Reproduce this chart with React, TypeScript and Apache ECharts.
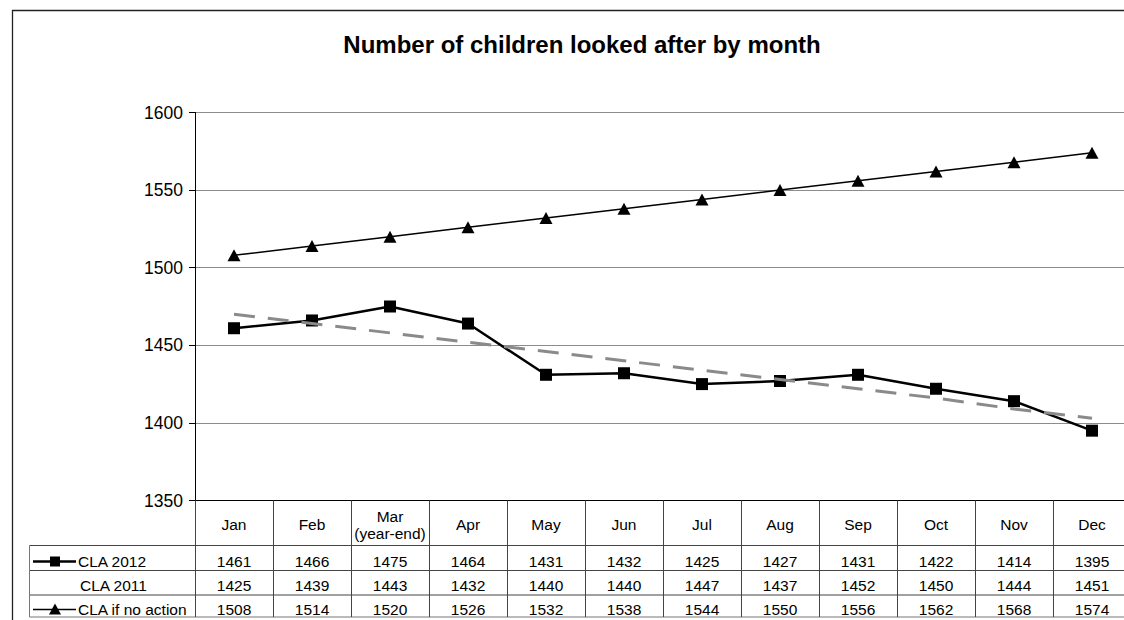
import React, { useEffect, useRef } from 'react';
import * as echarts from 'echarts';

const months = ['Jan', 'Feb', 'Mar\n(year-end)', 'Apr', 'May', 'Jun', 'Jul', 'Aug', 'Sep', 'Oct', 'Nov', 'Dec'];
const cla2012 = [1461, 1466, 1475, 1464, 1431, 1432, 1425, 1427, 1431, 1422, 1414, 1395];
const cla2011 = [1425, 1439, 1443, 1432, 1440, 1440, 1447, 1437, 1452, 1450, 1444, 1451];
const claNoAction = [1508, 1514, 1520, 1526, 1532, 1538, 1544, 1550, 1556, 1562, 1568, 1574];
const cla2012Trend = [1470, 1464, 1458, 1452, 1446, 1440, 1434, 1428, 1422, 1416, 1409, 1403];
const rowLabels = ['CLA 2012', 'CLA 2011', 'CLA if no action'];
const yMin = 1350;
const yMax = 1600;
const yStep = 50;
const titleText = 'Number of children looked after by month';

const FONT = "'Liberation Sans', Arial, sans-serif";
const GRID_LEFT = 195;
const GRID_TOP = 112.5;
const GRID_W = 936;
const GRID_H = 388;
const AXIS_Y = GRID_TOP + GRID_H;
const ROW_LINES = [545.5, 570.5, 595, 617];
const TABLE_LEFT = 29.5;
const TABLE_RIGHT = GRID_LEFT + GRID_W;
const ROW_MARGINS = [61, 85, 109];
const TABLE_FS = 15.5;

function tableAxis(data: (number | string)[], margin: number) {
  return {
    type: 'category',
    gridIndex: 0,
    position: 'bottom',
    offset: 0,
    data: data.map(String),
    axisLine: { show: false },
    axisTick: { show: false },
    splitLine: { show: false },
    axisLabel: {
      interval: 0,
      margin,
      verticalAlign: 'middle',
      fontSize: TABLE_FS,
      color: '#000',
      fontFamily: FONT,
    },
  };
}

export default function App() {
  const ref = useRef<HTMLDivElement>(null);

  useEffect(() => {
    if (!ref.current) return;
    const chart = echarts.init(ref.current, null, { renderer: 'svg' });

    const rowYs = ROW_MARGINS.map((m) => AXIS_Y + m);
    const graphics: any[] = [
      {
        type: 'rect',
        shape: { x: 12.5, y: 10.5, width: 1300, height: 800 },
        style: { fill: 'none', stroke: '#222', lineWidth: 1.3 },
        silent: true,
      },
      ...ROW_LINES.map((y, i) => ({
        type: 'line',
        shape: { x1: TABLE_LEFT, y1: y, x2: TABLE_RIGHT, y2: y },
        style: { stroke: i === ROW_LINES.length - 1 ? '#777' : '#444', lineWidth: 1 },
        silent: true,
      })),
      {
        type: 'line',
        shape: { x1: TABLE_LEFT, y1: ROW_LINES[0], x2: TABLE_LEFT, y2: ROW_LINES[3] },
        style: { stroke: '#777', lineWidth: 1 },
        silent: true,
      },
      ...rowLabels.map((t, i) => ({
        type: 'text',
        x: i === 1 ? 80 : 78,
        y: rowYs[i],
        style: { text: t, fontSize: TABLE_FS, fontFamily: FONT, fill: '#000', verticalAlign: 'middle', align: 'left' },
        silent: true,
      })),
      // legend key: CLA 2012
      {
        type: 'line',
        shape: { x1: 33, y1: rowYs[0], x2: 76, y2: rowYs[0] },
        style: { stroke: '#000', lineWidth: 2.5 },
        silent: true,
      },
      {
        type: 'rect',
        shape: { x: 50, y: rowYs[0] - 5, width: 10, height: 10 },
        style: { fill: '#000' },
        silent: true,
      },
      // legend key: CLA if no action
      {
        type: 'line',
        shape: { x1: 33, y1: rowYs[2], x2: 76, y2: rowYs[2] },
        style: { stroke: '#000', lineWidth: 1.5 },
        silent: true,
      },
      {
        type: 'polygon',
        shape: { points: [[49, rowYs[2] + 5], [61, rowYs[2] + 5], [55, rowYs[2] - 6]] },
        style: { fill: '#000' },
        silent: true,
      },
    ];

    const option: any = {
      animation: false,
      backgroundColor: '#fff',
      title: {
        text: titleText,
        left: 582,
        top: 32,
        padding: 0,
        textAlign: 'center',
        textStyle: { fontSize: 24, fontWeight: 'bold', fontFamily: FONT, color: '#000' },
      },
      grid: {
        left: GRID_LEFT,
        top: GRID_TOP,
        width: GRID_W,
        height: GRID_H,
        containLabel: false,
        outerBoundsMode: 'none',
      },
      xAxis: [
        {
          type: 'category',
          gridIndex: 0,
          position: 'bottom',
          data: months,
          boundaryGap: true,
          axisLine: { show: true, onZero: false, lineStyle: { color: '#000', width: 1 } },
          axisTick: { show: true, interval: 0, length: ROW_LINES[3] - AXIS_Y, lineStyle: { color: '#444', width: 1 } },
          splitLine: { show: false },
          axisLabel: {
            interval: 0,
            margin: 24,
            verticalAlign: 'middle',
            lineHeight: 17,
            fontSize: TABLE_FS,
            color: '#000',
            fontFamily: FONT,
          },
        },
        tableAxis(cla2012, ROW_MARGINS[0]),
        tableAxis(cla2011, ROW_MARGINS[1]),
        tableAxis(claNoAction, ROW_MARGINS[2]),
      ],
      yAxis: {
        type: 'value',
        min: yMin,
        max: yMax,
        interval: yStep,
        axisLine: { show: true, lineStyle: { color: '#000', width: 1 } },
        axisTick: { show: true, length: 6, lineStyle: { color: '#000' } },
        splitLine: { show: true, lineStyle: { color: '#8c8c8c', width: 1 } },
        axisLabel: {
          margin: 12,
          fontSize: 17.5,
          color: '#000',
          fontFamily: FONT,
          formatter: (v: number) => String(v),
        },
      },
      series: [
        {
          name: 'CLA if no action',
          type: 'line',
          xAxisIndex: 0,
          yAxisIndex: 0,
          data: claNoAction,
          symbol: 'triangle',
          symbolSize: [13, 12],
          itemStyle: { color: '#000' },
          lineStyle: { color: '#000', width: 1.5 },
          z: 3,
        },
        {
          name: 'CLA 2012',
          type: 'line',
          xAxisIndex: 0,
          yAxisIndex: 0,
          data: cla2012,
          symbol: 'rect',
          symbolSize: 12,
          itemStyle: { color: '#000' },
          lineStyle: { color: '#000', width: 2.5 },
          z: 3,
        },
        {
          name: 'Linear (CLA 2012)',
          type: 'line',
          xAxisIndex: 0,
          yAxisIndex: 0,
          data: cla2012Trend,
          symbol: 'none',
          lineStyle: { color: '#8a8a8a', width: 3, type: [21, 13] },
          z: 4,
        },
      ],
      graphic: graphics,
    };

    chart.setOption(option);
    return () => chart.dispose();
  }, []);

  return (
    <div
      ref={ref}
      style={{ position: 'fixed', left: 0, top: 0, width: 1124, height: 620, background: '#fff' }}
    />
  );
}
